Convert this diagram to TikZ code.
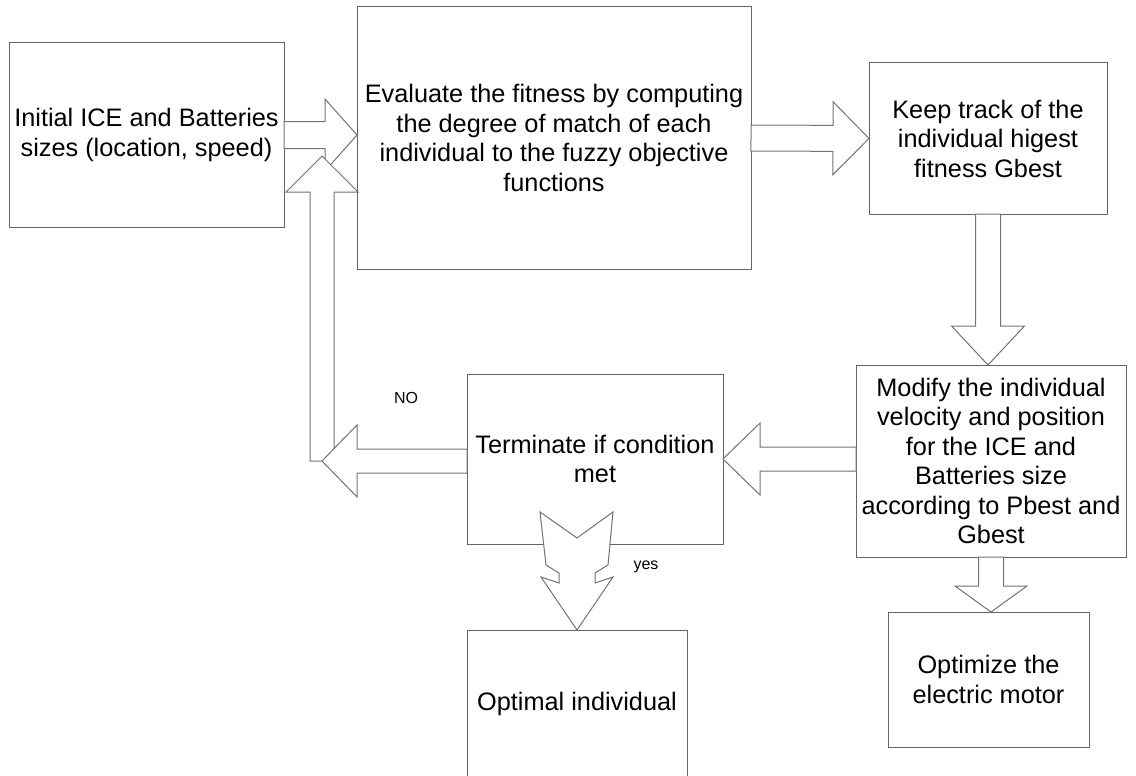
\documentclass[tikz,border=0pt]{standalone}
\usepackage{fontspec}
\setmainfont{Liberation Sans}
\usetikzlibrary{calc}
\tikzset{
  box/.style={draw=black!60, line width=1pt, fill=white, outer sep=0pt, inner sep=2pt,
    align=center, font=\fontsize{25.3pt}{29.5pt}\selectfont},
  fat/.style={draw=black!55, line width=1pt, fill=white, line join=miter},
  tag/.style={font=\fontsize{16pt}{18pt}\selectfont}
}
% #1 from, #2 to, #3 half shaft, #4 half head, #5 head length
\newcommand{\fatarrow}[5]{
  \path (#1) coordinate (fa-s) (#2) coordinate (fa-t);
  \path ($(fa-t)!#5!(fa-s)$) coordinate (fa-h);
  \draw[fat] ($(fa-s)!#3!90:(fa-t)$) -- ($(fa-h)!#3!90:(fa-t)$) -- ($(fa-h)!#4!90:(fa-t)$)
    -- (fa-t) -- ($(fa-h)!#4!-90:(fa-t)$) -- ($(fa-h)!#3!-90:(fa-t)$)
    -- ($(fa-s)!#3!-90:(fa-t)$) -- cycle;
}
\begin{document}
\begin{tikzpicture}[x=1pt, y=-1pt]
  \useasboundingbox (0,0) rectangle (1136,776);
  \draw
    (146.5,135) node[box, minimum width=275pt, minimum height=184pt] (init)
      {Initial ICE and Batteries\\sizes (location, speed)}
    (554,138) node[box, minimum width=394pt, minimum height=262pt] (eval)
      {Evaluate the fitness by computing\\the degree of match of each\\individual to the fuzzy objective\\functions}
    (988,138.5) node[box, minimum width=238pt, minimum height=151pt] (keep)
      {Keep track of the\\individual higest\\fitness Gbest}
    (991,461) node[box, minimum width=270pt, minimum height=192pt] (modify)
      {Modify the individual\\velocity and position\\for the ICE and\\Batteries size\\according to Pbest and\\Gbest}
    (595,459) node[box, minimum width=256pt, minimum height=170pt] (term)
      {Terminate if condition\\met}
    (577,703.5) node[box, minimum width=220pt, minimum height=147pt] (best)
      {Optimal individual}
    (988.5,679.5) node[box, minimum width=201pt, minimum height=135pt] (motor)
      {Optimize the\\electric motor};
  \coordinate (turn) at (322,461);
  \coordinate (back) at (322,156);
  \node[tag] (no) at (406,398) {NO};
  \node[tag] (yes) at (646,567) {yes};
  \begin{scope}
    \fatarrow{init.east}{init.east -| eval.west}{13.5pt}{36pt}{32pt}
    \fatarrow{eval.east}{keep.west}{13pt}{36.5pt}{36pt}
    \fatarrow{keep.south}{keep.south |- modify.north}{12.5pt}{36.5pt}{39pt}
    \fatarrow{modify.south}{modify.south |- motor.north}{12.5pt}{36pt}{26pt}
    \fatarrow{term.east -| modify.west}{term.east}{12pt}{36pt}{37pt}
    \fatarrow{turn}{back}{12pt}{36pt}{36pt}
    \fatarrow{term.west |- turn}{turn}{12pt}{36pt}{35pt}
    \draw[fat, shift={(best.north)}]
      (-37,-118) -- (0,-92) -- (36,-118) -- (31,-65) -- (18,-57) -- (18,-47) -- (36,-53)
      -- (0,0) -- (-36,-53) -- (-18,-47) -- (-18,-57) -- (-31,-65) -- cycle;
  \end{scope}
\end{tikzpicture}
\end{document}
